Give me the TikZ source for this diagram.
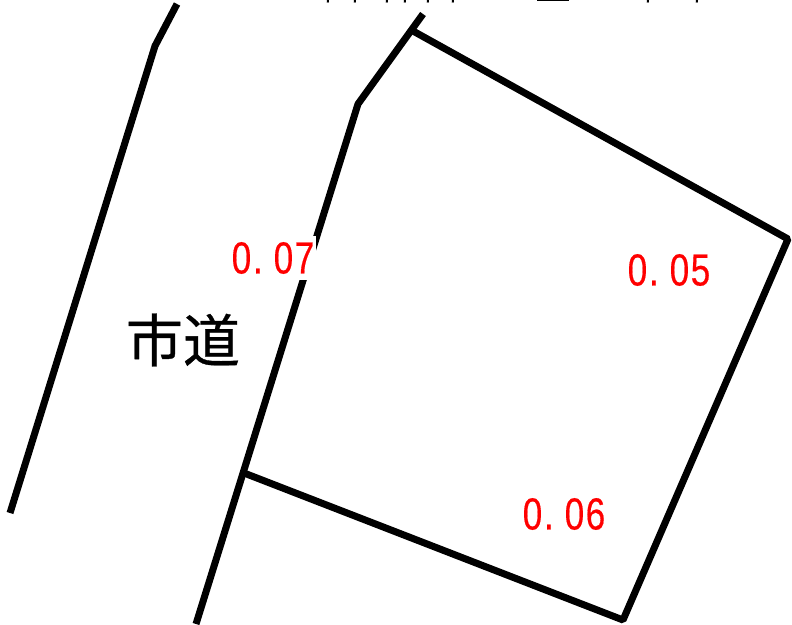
\documentclass[tikz,border=0pt]{standalone}
\usepackage{fontspec}
\newfontfamily\cjk[FakeBold=0.6]{Noto Sans CJK JP}
\newfontfamily\num[FakeStretch=0.78,FakeBold=0.4]{Liberation Sans}
\newcommand{\cellrow}[4]{\makebox[21pt]{#1}\makebox[21pt][l]{\hspace{1pt}#2}\makebox[21pt]{#3}\makebox[21pt]{#4}}
\tikzset{
  wall/.style={draw=black,line width=7pt,line cap=butt,line join=bevel},
  val/.style={text=red,font=\num\fontsize{45}{45}\selectfont,inner sep=1pt,anchor=center,minimum height=44pt},
  road/.style={text=black,font=\cjk\fontsize{57}{57}\selectfont,inner sep=0pt,anchor=center},
  speck/.style={draw=black,line width=2pt}
}
\begin{document}
\begin{tikzpicture}[x=1pt,y=-1pt]
\useasboundingbox (0,0) rectangle (792,624);
\coordinate (a) at (10,513);
\coordinate (b) at (155,46);
\coordinate (c) at (177,4);
\coordinate (d) at (196,624);
\coordinate (e) at (358,104);
\coordinate (f) at (423,14);
\coordinate (g) at (413,31);
\coordinate (h) at (788,239);
\coordinate (i) at (623,620);
\coordinate (j) at (244,473);
\draw[wall] (a) -- (b) -- (c);
\draw[wall] (d) -- (e) -- (f);
\draw[wall] (g) -- (h) -- (i) -- (j);
\node[val,fill=white] (v1) at (273,258) {\cellrow{0}{.}{0}{7}};
\node[val] (v2) at (669,270) {\cellrow{0}{.}{0}{5}};
\node[val] (v3) at (564,514) {\cellrow{0}{.}{0}{6}};
\node[road] (r) at (183,340) {市道};
\foreach \px in {328,355,387,405,428,453,648,697}
  \draw[speck] (\px,0) -- (\px-0.3,2.5);
\draw[speck] (537,0) -- (569,0);
\end{tikzpicture}
\end{document}
